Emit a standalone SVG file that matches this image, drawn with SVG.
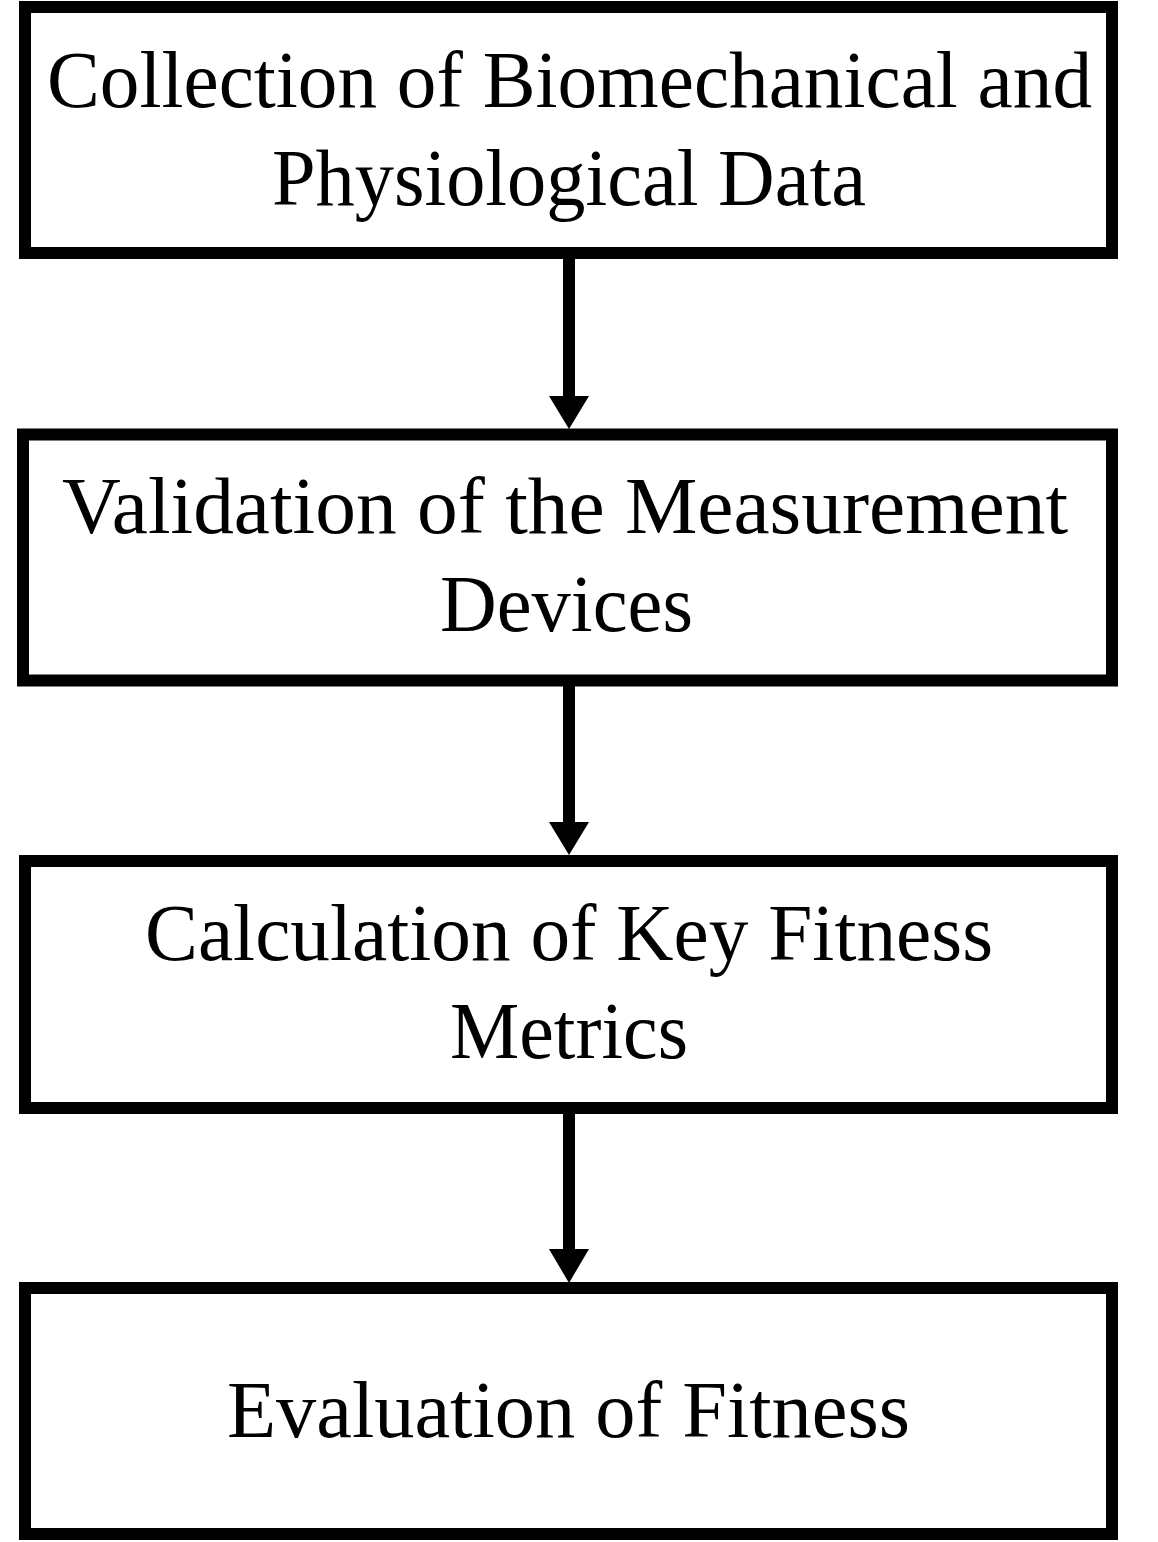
<svg xmlns="http://www.w3.org/2000/svg" width="1158" height="1542" viewBox="0 0 1158 1542">
<style>
.box{fill:#fff;stroke:#000;stroke-width:12}
.lbl{font-family:"Liberation Serif","Times New Roman",serif;font-size:80px;fill:#000;text-anchor:middle}
.shaft{stroke:#000;stroke-width:12;fill:none}
.head{fill:#000}
</style>
<rect width="1158" height="1542" fill="#fff"/>
<g id="node1">
<rect class="box" x="25" y="7" width="1087" height="246"/>
<text class="lbl" x="569.5" y="107" textLength="1045" lengthAdjust="spacingAndGlyphs">Collection of Biomechanical and</text>
<text class="lbl" x="569" y="205" textLength="594" lengthAdjust="spacingAndGlyphs">Physiological Data</text>
</g>
<g id="node2">
<rect class="box" x="23" y="434.5" width="1089" height="246"/>
<text class="lbl" x="565" y="533" textLength="1006" lengthAdjust="spacingAndGlyphs">Validation of the Measurement</text>
<text class="lbl" x="566.5" y="631" textLength="253" lengthAdjust="spacingAndGlyphs">Devices</text>
</g>
<g id="node3">
<rect class="box" x="25" y="861" width="1087" height="247"/>
<text class="lbl" x="569" y="960" textLength="848" lengthAdjust="spacingAndGlyphs">Calculation of Key Fitness</text>
<text class="lbl" x="569" y="1058" textLength="238" lengthAdjust="spacingAndGlyphs">Metrics</text>
</g>
<g id="node4">
<rect class="box" x="25" y="1288" width="1087" height="246"/>
<text class="lbl" x="568.5" y="1437" textLength="683" lengthAdjust="spacingAndGlyphs">Evaluation of Fitness</text>
</g>
<g id="connectors">
<line class="shaft" x1="569" y1="253" x2="569" y2="398"/>
<polygon class="head" points="549,396 589,396 569,429"/>
<line class="shaft" x1="569" y1="680" x2="569" y2="824"/>
<polygon class="head" points="549,822 589,822 569,855"/>
<line class="shaft" x1="569" y1="1108" x2="569" y2="1251"/>
<polygon class="head" points="549,1249 589,1249 569,1283"/>
</g>
</svg>
